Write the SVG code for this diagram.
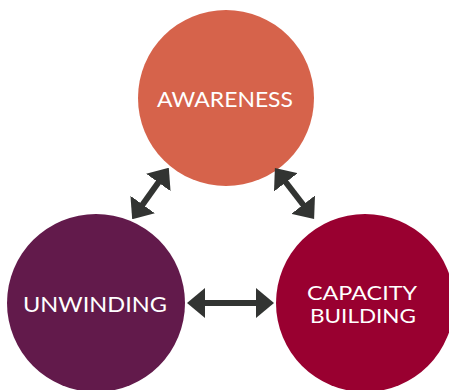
<svg xmlns="http://www.w3.org/2000/svg" width="449" height="390" viewBox="0 0 449 390">
<style>
.lbl{font-family:Lato,"Liberation Sans",sans-serif;font-size:22px;fill:#ffffff;text-anchor:middle}
.sm{font-size:20px}
.conn{stroke:#323432;stroke-width:6;fill:none}
</style>
<defs>
<marker id="ah" markerUnits="userSpaceOnUse" markerWidth="18" markerHeight="30" viewBox="0 0 18 30" refX="8" refY="15" orient="auto-start-reverse">
<path d="M0,0 L18,15 L0,30 Z" fill="#323432"/>
</marker>
</defs>
<rect width="449" height="390" fill="#ffffff"/>
<g id="awareness">
<circle cx="226" cy="98" r="88" fill="#D6634B"/>
<text class="lbl" x="225" y="107" textLength="136" lengthAdjust="spacingAndGlyphs">AWARENESS</text>
</g>
<g id="unwinding">
<circle cx="96" cy="303" r="89" fill="#621A4B"/>
<text class="lbl" x="95" y="312" textLength="144" lengthAdjust="spacingAndGlyphs">UNWINDING</text>
</g>
<g id="capacity">
<circle cx="365" cy="303" r="89" fill="#990030"/>
<text class="lbl sm" x="362" y="300" textLength="110" lengthAdjust="spacingAndGlyphs">CAPACITY</text>
<text class="lbl sm" x="363" y="323" textLength="106" lengthAdjust="spacingAndGlyphs">BUILDING</text>
</g>
<g id="connectors">
<line class="conn" x1="197" y1="303" x2="264" y2="303" marker-start="url(#ah)" marker-end="url(#ah)"/>
<line class="conn" x1="163" y1="176" x2="138" y2="211" marker-start="url(#ah)" marker-end="url(#ah)"/>
<line class="conn" x1="281" y1="176" x2="308" y2="211" marker-start="url(#ah)" marker-end="url(#ah)"/>
</g>
</svg>
